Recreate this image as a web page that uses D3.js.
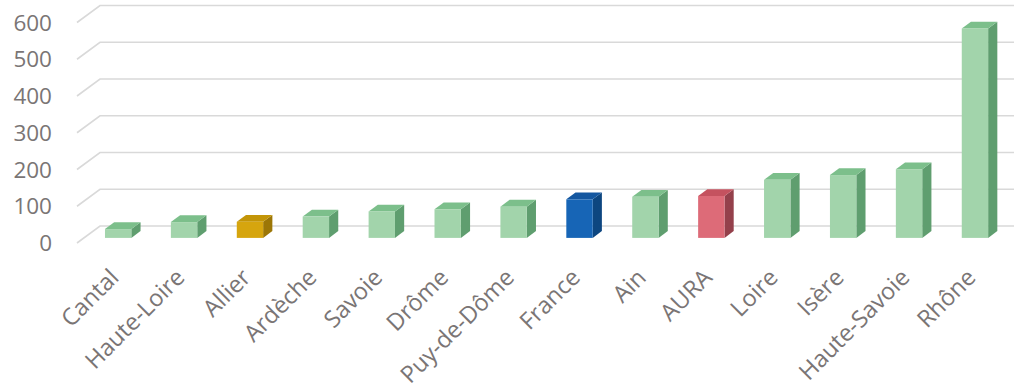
<!DOCTYPE html>
<html><head><meta charset="utf-8">
<script src="https://cdn.jsdelivr.net/npm/d3@7"></script>
<style>html,body{margin:0;padding:0;background:#fff;}svg{display:block;}</style>
</head><body><svg id="c" width="1014" height="391"></svg>
<script>
const categories = ["Cantal","Haute-Loire","Allier","Ardèche","Savoie","Drôme","Puy-de-Dôme","France","Ain","AURA","Loire","Isère","Haute-Savoie","Rhône"];
const values = [24,43,44,58,72,78,85,105,112,114,158,171,187,570];
const kinds = ["dep","dep","allier","dep","dep","dep","dep","france","dep","aura","dep","dep","dep","dep"];
const yTicks = [0,100,200,300,400,500,600];

const palette = {
  dep:    {front:"#a2d4ab", top:"#7cbf8b", side:"#5f9e6f"},
  allier: {front:"#d6a50e", top:"#c39507", side:"#9c7606"},
  france: {front:"#1765b6", top:"#1457a0", side:"#0d4680"},
  aura:   {front:"#dd6b78", top:"#c5525f", side:"#94404b"}
};

const svg = d3.select("#c");
const depth = {dx:23, dy:-17};
const x = d3.scaleBand().domain(categories).range([78.3, 1001]).paddingInner(0.6).paddingOuter(0.3);
const y = d3.scaleLinear().domain([0,600]).range([243, 22.5]);
const leftX = 77;

const grid = svg.append("g");
yTicks.forEach(t => {
  const yf = y(t);
  grid.append("path")
    .attr("d", `M${leftX},${yf} L${leftX+depth.dx},${yf+depth.dy} L1014,${yf+depth.dy}`)
    .attr("fill","none").attr("stroke","#d9d9d9").attr("stroke-width",1.6);
});

svg.append("g").selectAll("text").data(yTicks).join("text")
  .attr("x", 52).attr("y", d => y(d)).attr("dy","0.36em")
  .attr("text-anchor","end")
  .attr("font-family","'Open Sans', sans-serif").attr("font-size",22.5)
  .attr("fill","#7a7575").text(d => d);

const f0 = 0.3, f1 = 0.7;
const bars = svg.append("g");
categories.forEach((c,i) => {
  const v = values[i];
  const col = palette[kinds[i]];
  const bx = x(c) + f0*depth.dx;
  const bw = x.bandwidth();
  const yb = y(0) + f0*depth.dy;
  const yt = y(v) + f0*depth.dy;
  const ddx = (f1-f0)*depth.dx, ddy = (f1-f0)*depth.dy;
  bars.append("path").attr("d",
    `M${bx+bw},${yt} L${bx+bw+ddx},${yt+ddy} L${bx+bw+ddx},${yb+ddy} L${bx+bw},${yb} Z`)
    .attr("fill", col.side);
  bars.append("path").attr("d",
    `M${bx},${yt} L${bx+ddx},${yt+ddy} L${bx+bw+ddx},${yt+ddy} L${bx+bw},${yt} Z`)
    .attr("fill", col.top);
  bars.append("rect").attr("x",bx).attr("y",yt).attr("width",bw).attr("height",yb-yt)
    .attr("fill", col.front);
});

svg.append("g").selectAll("text").data(categories).join("text")
  .attr("transform", d => `translate(${x(d)+x.bandwidth()/2+9},${279}) rotate(-45)`)
  .attr("text-anchor","end")
  .attr("font-family","'Open Sans', sans-serif").attr("font-size",23.5)
  .attr("fill","#7a7575").text(d => d);
</script></body></html>
